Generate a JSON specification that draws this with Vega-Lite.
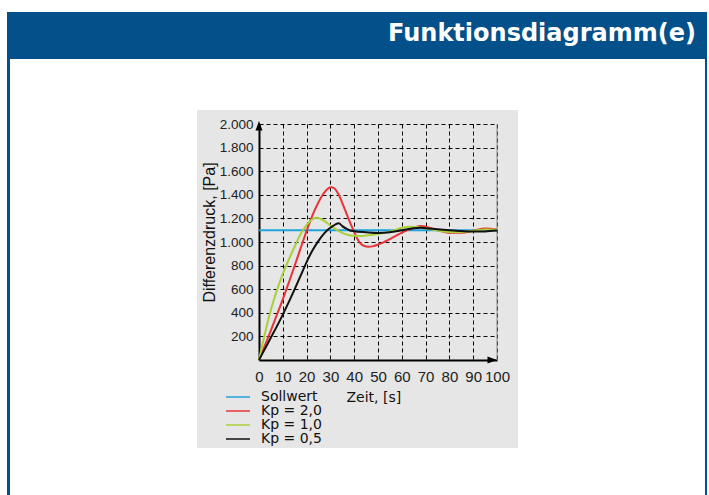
{
  "$schema": "https://vega.github.io/schema/vega-lite/v6.json",
  "width": 238,
  "height": 236,
  "autosize": {"type": "none"},
  "padding": {"left": 259, "top": 124, "right": 212, "bottom": 135},
  "background": "#e5e6e5",
  "config": {"view": {"stroke": null}},
  "data": {
    "values": [
      {"s": "Sollwert", "t": 0, "v": 1100},
      {"s": "Sollwert", "t": 100, "v": 1100},
      {"s": "Kp = 2,0", "t": 0, "v": 0},
      {"s": "Kp = 2,0", "t": 2.5, "v": 125},
      {"s": "Kp = 2,0", "t": 5, "v": 252},
      {"s": "Kp = 2,0", "t": 7.5, "v": 382},
      {"s": "Kp = 2,0", "t": 10, "v": 514},
      {"s": "Kp = 2,0", "t": 12.5, "v": 655},
      {"s": "Kp = 2,0", "t": 15, "v": 800},
      {"s": "Kp = 2,0", "t": 17.5, "v": 948},
      {"s": "Kp = 2,0", "t": 20, "v": 1095},
      {"s": "Kp = 2,0", "t": 22.5, "v": 1228},
      {"s": "Kp = 2,0", "t": 25, "v": 1337},
      {"s": "Kp = 2,0", "t": 27.5, "v": 1420},
      {"s": "Kp = 2,0", "t": 29, "v": 1452},
      {"s": "Kp = 2,0", "t": 30.5, "v": 1463},
      {"s": "Kp = 2,0", "t": 32, "v": 1448},
      {"s": "Kp = 2,0", "t": 33.5, "v": 1400},
      {"s": "Kp = 2,0", "t": 35, "v": 1330},
      {"s": "Kp = 2,0", "t": 37.5, "v": 1203},
      {"s": "Kp = 2,0", "t": 40, "v": 1085},
      {"s": "Kp = 2,0", "t": 41.25, "v": 1030},
      {"s": "Kp = 2,0", "t": 42.5, "v": 990},
      {"s": "Kp = 2,0", "t": 44, "v": 968},
      {"s": "Kp = 2,0", "t": 46, "v": 960},
      {"s": "Kp = 2,0", "t": 48, "v": 965},
      {"s": "Kp = 2,0", "t": 50, "v": 978},
      {"s": "Kp = 2,0", "t": 55, "v": 1025},
      {"s": "Kp = 2,0", "t": 60, "v": 1080},
      {"s": "Kp = 2,0", "t": 65, "v": 1120},
      {"s": "Kp = 2,0", "t": 68, "v": 1135},
      {"s": "Kp = 2,0", "t": 70, "v": 1130},
      {"s": "Kp = 2,0", "t": 75, "v": 1100},
      {"s": "Kp = 2,0", "t": 80, "v": 1078},
      {"s": "Kp = 2,0", "t": 85, "v": 1078},
      {"s": "Kp = 2,0", "t": 90, "v": 1095},
      {"s": "Kp = 2,0", "t": 95, "v": 1115},
      {"s": "Kp = 2,0", "t": 100, "v": 1105},
      {"s": "Kp = 1,0", "t": 0, "v": 0},
      {"s": "Kp = 1,0", "t": 2.5, "v": 225},
      {"s": "Kp = 1,0", "t": 5, "v": 425},
      {"s": "Kp = 1,0", "t": 7.5, "v": 590},
      {"s": "Kp = 1,0", "t": 10, "v": 730},
      {"s": "Kp = 1,0", "t": 12.5, "v": 850},
      {"s": "Kp = 1,0", "t": 15, "v": 962},
      {"s": "Kp = 1,0", "t": 17.5, "v": 1068},
      {"s": "Kp = 1,0", "t": 20, "v": 1142},
      {"s": "Kp = 1,0", "t": 22, "v": 1186},
      {"s": "Kp = 1,0", "t": 24, "v": 1205},
      {"s": "Kp = 1,0", "t": 26, "v": 1195},
      {"s": "Kp = 1,0", "t": 28, "v": 1170},
      {"s": "Kp = 1,0", "t": 30, "v": 1140},
      {"s": "Kp = 1,0", "t": 32.5, "v": 1105},
      {"s": "Kp = 1,0", "t": 35, "v": 1078},
      {"s": "Kp = 1,0", "t": 37.5, "v": 1060},
      {"s": "Kp = 1,0", "t": 40, "v": 1052},
      {"s": "Kp = 1,0", "t": 42.5, "v": 1050},
      {"s": "Kp = 1,0", "t": 45, "v": 1055},
      {"s": "Kp = 1,0", "t": 50, "v": 1068},
      {"s": "Kp = 1,0", "t": 55, "v": 1088},
      {"s": "Kp = 1,0", "t": 60, "v": 1120},
      {"s": "Kp = 1,0", "t": 63, "v": 1130},
      {"s": "Kp = 1,0", "t": 66, "v": 1128},
      {"s": "Kp = 1,0", "t": 70, "v": 1115},
      {"s": "Kp = 1,0", "t": 75, "v": 1098},
      {"s": "Kp = 1,0", "t": 80, "v": 1085},
      {"s": "Kp = 1,0", "t": 85, "v": 1085},
      {"s": "Kp = 1,0", "t": 90, "v": 1095},
      {"s": "Kp = 1,0", "t": 95, "v": 1105},
      {"s": "Kp = 1,0", "t": 100, "v": 1103},
      {"s": "Kp = 0,5", "t": 0, "v": 0},
      {"s": "Kp = 0,5", "t": 2.5, "v": 95},
      {"s": "Kp = 0,5", "t": 5, "v": 190},
      {"s": "Kp = 0,5", "t": 7.5, "v": 285},
      {"s": "Kp = 0,5", "t": 10, "v": 385},
      {"s": "Kp = 0,5", "t": 12.5, "v": 490},
      {"s": "Kp = 0,5", "t": 15, "v": 600},
      {"s": "Kp = 0,5", "t": 17.5, "v": 715},
      {"s": "Kp = 0,5", "t": 20, "v": 830},
      {"s": "Kp = 0,5", "t": 22.5, "v": 930},
      {"s": "Kp = 0,5", "t": 25, "v": 1010},
      {"s": "Kp = 0,5", "t": 27.5, "v": 1075},
      {"s": "Kp = 0,5", "t": 29, "v": 1105},
      {"s": "Kp = 0,5", "t": 31, "v": 1135},
      {"s": "Kp = 0,5", "t": 33.5, "v": 1158},
      {"s": "Kp = 0,5", "t": 35, "v": 1135},
      {"s": "Kp = 0,5", "t": 36.5, "v": 1115},
      {"s": "Kp = 0,5", "t": 38, "v": 1100},
      {"s": "Kp = 0,5", "t": 40, "v": 1092},
      {"s": "Kp = 0,5", "t": 45, "v": 1083},
      {"s": "Kp = 0,5", "t": 50, "v": 1077},
      {"s": "Kp = 0,5", "t": 55, "v": 1083},
      {"s": "Kp = 0,5", "t": 60, "v": 1100},
      {"s": "Kp = 0,5", "t": 65, "v": 1117},
      {"s": "Kp = 0,5", "t": 68, "v": 1120},
      {"s": "Kp = 0,5", "t": 70, "v": 1117},
      {"s": "Kp = 0,5", "t": 75, "v": 1108},
      {"s": "Kp = 0,5", "t": 80, "v": 1100},
      {"s": "Kp = 0,5", "t": 85, "v": 1093},
      {"s": "Kp = 0,5", "t": 90, "v": 1088},
      {"s": "Kp = 0,5", "t": 95, "v": 1090},
      {"s": "Kp = 0,5", "t": 100, "v": 1097}
    ]
  },
  "layer": [
    {
      "data": {"values": [{}]},
      "mark": {"type": "rect", "fill": "#ffffff"},
      "encoding": {
        "x": {"datum": -120, "type": "quantitative"},
        "x2": {"datum": 200},
        "y": {"datum": 2119, "type": "quantitative"},
        "y2": {"datum": 3300}
      }
    },
    {
      "data": {"values": [{}]},
      "mark": {"type": "rect", "fill": "#ffffff"},
      "encoding": {
        "x": {"datum": -120, "type": "quantitative"},
        "x2": {"datum": 200},
        "y": {"datum": -1300, "type": "quantitative"},
        "y2": {"datum": -746}
      }
    },
    {
      "data": {"values": [{}]},
      "mark": {"type": "rect", "fill": "#ffffff"},
      "encoding": {
        "x": {"datum": -120, "type": "quantitative"},
        "x2": {"datum": -26.05},
        "y": {"datum": -746, "type": "quantitative"},
        "y2": {"datum": 2119}
      }
    },
    {
      "data": {"values": [{}]},
      "mark": {"type": "rect", "fill": "#ffffff"},
      "encoding": {
        "x": {"datum": 108.8, "type": "quantitative"},
        "x2": {"datum": 200},
        "y": {"datum": -746, "type": "quantitative"},
        "y2": {"datum": 2119}
      }
    },
    {
      "data": {"values": [{}]},
      "mark": {"type": "rect", "fill": "#03508a"},
      "encoding": {
        "x": {"datum": -105.88, "type": "quantitative"},
        "x2": {"datum": 188.24},
        "y": {"datum": 2550.8, "type": "quantitative"},
        "y2": {"datum": 2949.2}
      }
    },
    {
      "data": {"values": [{}]},
      "mark": {"type": "rect", "fill": "#03508a"},
      "encoding": {
        "x": {"datum": -105.88, "type": "quantitative"},
        "x2": {"datum": -104.62},
        "y": {"datum": -1300, "type": "quantitative"},
        "y2": {"datum": 2551}
      }
    },
    {
      "data": {"values": [{}]},
      "mark": {"type": "rect", "fill": "#03508a"},
      "encoding": {
        "x": {"datum": 187.39, "type": "quantitative"},
        "x2": {"datum": 188.24},
        "y": {"datum": -1300, "type": "quantitative"},
        "y2": {"datum": 2551}
      }
    },
    {
      "data": {"values": [{}]},
      "mark": {"type": "text", "text": "Funktionsdiagramm(e)", "align": "right", "baseline": "alphabetic", "font": "DejaVu Sans", "fontWeight": "bold", "fontSize": 24, "fill": "#ffffff"},
      "encoding": {
        "x": {"datum": 183.6, "type": "quantitative"},
        "y": {"datum": 2703, "type": "quantitative"}
      }
    },
    {
      "data": {"values": [{}]},
      "mark": {"type": "rule", "color": "#8a8a8a", "strokeWidth": 1},
      "encoding": {
        "x": {"datum": 100, "type": "quantitative"}
      }
    },
    {
      "mark": {"type": "line", "strokeWidth": 2, "interpolate": "monotone"},
      "encoding": {
        "x": {
          "field": "t",
          "type": "quantitative",
          "scale": {"domain": [0, 100], "nice": false, "zero": false},
          "axis": {
            "values": [0, 10, 20, 30, 40, 50, 60, 70, 80, 90, 100],
            "tickCount": 30,
            "labelOverlap": false,
            "labelFlush": false,
            "grid": true,
            "gridColor": "#000000",
            "gridDash": [4, 3],
            "gridWidth": 1,
            "gridOpacity": 1,
            "domain": true,
            "domainColor": "#000000",
            "domainWidth": 2,
            "ticks": false,
            "tickSize": 0,
            "labelFont": "Liberation Sans",
            "labelFontSize": 15,
            "labelColor": "#222222",
            "labelPadding": 9,
            "title": "Zeit, [s]",
            "titleFont": "DejaVu Sans",
            "titleFontSize": 14,
            "titleFontWeight": "normal",
            "titleColor": "#111111",
            "titleX": 87,
            "titleY": 37,
            "titleAlign": "left",
            "titleBaseline": "middle"
          }
        },
        "y": {
          "field": "v",
          "type": "quantitative",
          "scale": {"domain": [0, 2000], "nice": false},
          "axis": {
            "values": [200, 400, 600, 800, 1000, 1200, 1400, 1600, 1800, 2000],
            "tickCount": 30,
            "labelOverlap": false,
            "labelFlush": false,
            "labelExpr": "replace(format(datum.value, ','), ',', '.')",
            "grid": true,
            "gridColor": "#000000",
            "gridDash": [4, 3],
            "gridWidth": 1,
            "gridOpacity": 1,
            "domain": true,
            "domainColor": "#000000",
            "domainWidth": 2,
            "ticks": false,
            "tickSize": 0,
            "labelFont": "Liberation Sans",
            "labelFontSize": 13.5,
            "labelColor": "#222222",
            "labelPadding": 6,
            "title": "Differenzdruck, [Pa]",
            "titleFont": "Liberation Sans",
            "titleFontSize": 16,
            "titleFontWeight": "normal",
            "titleColor": "#111111",
            "titleX": -50,
            "titleY": 108,
            "titleAngle": -90,
            "titleAlign": "center",
            "titleBaseline": "middle"
          }
        },
        "color": {
          "field": "s",
          "type": "nominal",
          "scale": {
            "domain": ["Sollwert", "Kp = 2,0", "Kp = 1,0", "Kp = 0,5"],
            "range": ["#1fa3dd", "#e83438", "#a9cf3a", "#111111"]
          },
          "legend": {
            "orient": "none",
            "legendX": -28,
            "legendY": 266,
            "title": null,
            "symbolType": "M-2,0L2,0",
            "symbolSize": 144,
            "symbolStrokeWidth": 1.5,
            "labelFont": "DejaVu Sans",
            "labelFontSize": 14,
            "labelColor": "#111111",
            "labelOffset": 16,
            "rowPadding": 0,
            "padding": 0
          }
        }
      }
    },
    {
      "data": {"values": [{}]},
      "mark": {"type": "point", "shape": "M0,-1L0.7,0.9L-0.7,0.9Z", "size": 100, "filled": true, "fill": "#000000", "strokeWidth": 0, "opacity": 1},
      "encoding": {
        "x": {"datum": 0, "type": "quantitative"},
        "y": {"datum": 1983, "type": "quantitative"}
      }
    },
    {
      "data": {"values": [{}]},
      "mark": {"type": "point", "shape": "M1,0L-0.9,0.7L-0.9,-0.7Z", "size": 100, "filled": true, "fill": "#000000", "strokeWidth": 0, "opacity": 1},
      "encoding": {
        "x": {"datum": 97.9, "type": "quantitative"},
        "y": {"datum": 0, "type": "quantitative"}
      }
    }
  ]
}
